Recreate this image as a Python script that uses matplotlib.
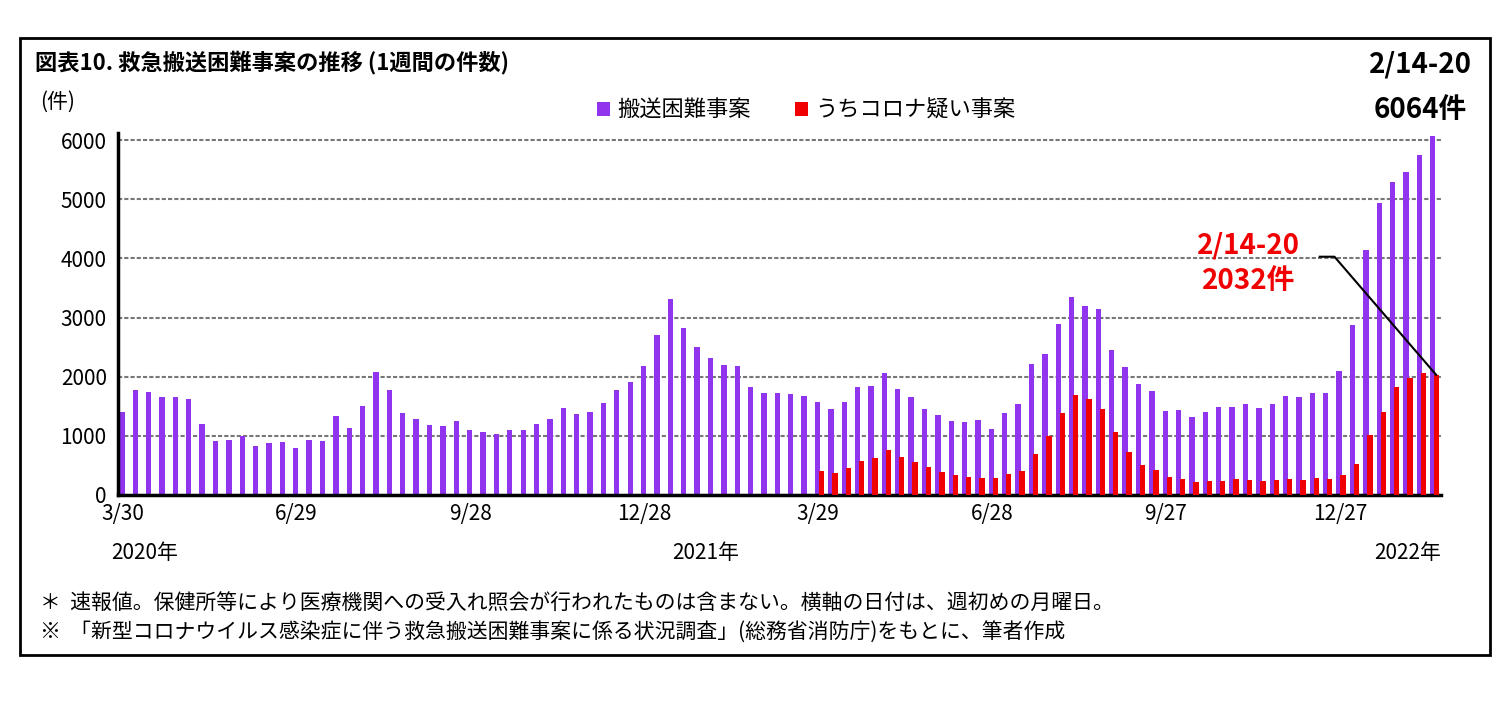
import numpy as np
import matplotlib
matplotlib.use("Agg")
import matplotlib.pyplot as plt
from matplotlib.patches import Rectangle

plt.rcParams["font.family"] = "Noto Sans CJK JP"

# 週ごとの件数 (2020/3/30 週 ～ 2022/2/14 週)
total = [1400, 1780, 1740, 1660, 1660, 1620, 1200, 910, 930, 1000,
         830, 870, 900, 790, 930, 910, 1330, 1130, 1500, 2080,
         1780, 1390, 1290, 1180, 1170, 1250, 1100, 1070, 1030, 1100,
         1090, 1200, 1290, 1470, 1370, 1400, 1560, 1780, 1910, 2180,
         2700, 3310, 2830, 2510, 2320, 2200, 2180, 1820, 1720, 1730,
         1700, 1680, 1570, 1460, 1580, 1830, 1840, 2060, 1800, 1660,
         1460, 1360, 1250, 1240, 1270, 1110, 1390, 1540, 2210, 2380,
         2900, 3350, 3200, 3150, 2450, 2160, 1870, 1760, 1420, 1430,
         1320, 1410, 1480, 1480, 1540, 1470, 1540, 1680, 1660, 1720,
         1730, 2100, 2880, 4150, 4940, 5300, 5470, 5750, 6064]
# うちコロナ疑い (2021/3/29 週から)
covid_start = 52
covid = [410, 370, 450, 570, 620, 760, 640, 560, 470, 390,
         330, 300, 290, 280, 360, 400, 690, 1000, 1380, 1690,
         1620, 1460, 1060, 730, 510, 420, 310, 270, 220, 230,
         230, 270, 260, 240, 260, 270, 250, 280, 270, 340,
         530, 1020, 1400, 1830, 1970, 2060, 2032]
tick_pos = [0, 13, 26, 39, 52, 65, 78, 91]
tick_labels = ["3/30", "6/29", "9/28", "12/28", "3/29", "6/28", "9/27", "12/27"]

PURPLE = "#9035ED"
RED = "#F00000"

fig = plt.figure(figsize=(15.11, 7.01), dpi=100)
fig.patches.append(Rectangle((20 / 1511, 1 - 655 / 701), 1470 / 1511, 617 / 701,
                             transform=fig.transFigure, fill=False, lw=2, ec="black"))

ax = fig.add_axes([0.078, 0.294, 0.876, 0.516])
x = np.arange(len(total))
ax.bar(x - 0.05, total, width=0.4, color=PURPLE, label="搬送困難事案", zorder=2)
xc = np.arange(covid_start, covid_start + len(covid))
ax.bar(xc + 0.25, covid, width=0.4, color=RED, label="うちコロナ疑い事案", zorder=3)

ax.set_xlim(-0.35, len(total) - 0.4)
ax.set_ylim(0, 6120)
ax.set_yticks(range(0, 7000, 1000))
ax.tick_params(axis="y", labelsize=15, length=0, pad=8)
ax.set_xticks(tick_pos)
ax.set_xticklabels(tick_labels, fontsize=15)
ax.tick_params(axis="x", length=0, pad=6)
ax.grid(axis="y", color="#777777", ls=(0, (2, 1)), lw=1.5, zorder=0)
for s in ["top", "right"]:
    ax.spines[s].set_visible(False)
ax.spines["left"].set_linewidth(2.5)
ax.spines["bottom"].set_linewidth(2.5)

ax.legend(loc="lower center", bbox_to_anchor=(0.52, 1.0), ncol=2, frameon=False,
          fontsize=16, handlelength=0.6, handleheight=0.6, columnspacing=2.0,
          handletextpad=0.3, borderaxespad=0.1)

fig.text(35 / 1511, 1 - 62 / 701, "図表10. 救急搬送困難事案の推移 (1週間の件数)",
         fontsize=16, fontweight="bold", va="center")
fig.text(40 / 1511, 1 - 102 / 701, "(件)", fontsize=15, va="center")
fig.text(1420 / 1511, 1 - 64 / 701, "2/14-20", fontsize=20, fontweight="bold",
         ha="center", va="center")
fig.text(1420 / 1511, 1 - 110 / 701, "6064件", fontsize=20, fontweight="bold",
         ha="center", va="center")

for txt, xp, yp in [("2020年", 145, 553), ("2021年", 706, 553), ("2022年", 1408, 553)]:
    fig.text(xp / 1511, 1 - yp / 701, txt, fontsize=15, ha="center", va="center")

ax.text(84.2, 3920, "2/14-20\n2032件", color=RED, fontsize=20, fontweight="bold",
        ha="center", va="center", linespacing=1.3)
ax.plot([89.5, 90.6, 98.2], [4030, 4030, 2032], color="black", lw=1.5, zorder=4)

fig.text(40 / 1511, 1 - 603 / 701,
         "＊  速報値。保健所等により医療機関への受入れ照会が行われたものは含まない。横軸の日付は、週初めの月曜日。",
         fontsize=15, va="center")
fig.text(40 / 1511, 1 - 633 / 701,
         "※  「新型コロナウイルス感染症に伴う救急搬送困難事案に係る状況調査」(総務省消防庁)をもとに、筆者作成",
         fontsize=15, va="center")

fig.savefig("out.png", dpi=100)
